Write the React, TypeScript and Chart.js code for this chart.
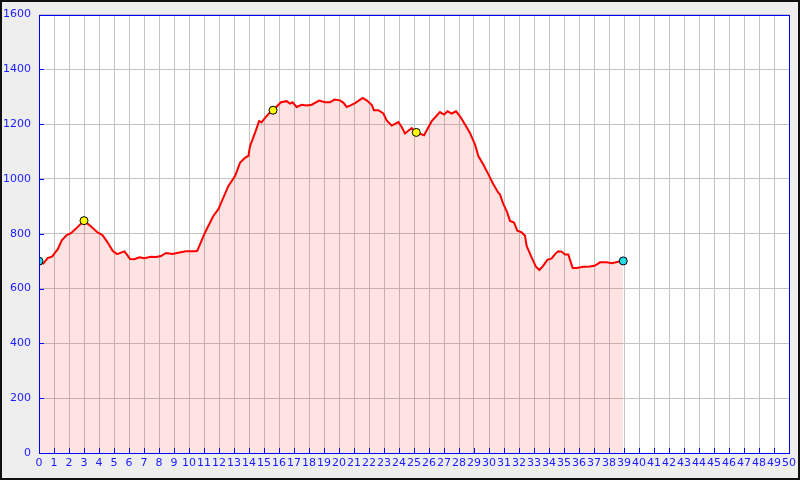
import React, { useEffect, useRef } from "react";
import { Chart, registerables } from "chart.js";

Chart.register(...registerables);

const distanceKm: number[] = [
  0, 0.29, 0.58, 0.87, 1.25, 1.53, 1.85, 2.13, 2.47, 3.0, 3.47, 3.91, 4.24, 4.58, 4.91, 5.2, 5.69, 5.84,
  6.07, 6.36, 6.69, 7.02, 7.47, 7.8, 8.13, 8.47, 8.91, 9.36, 9.8, 10.4, 10.55, 11.07, 11.62, 11.96, 12.29,
  12.62, 13.07, 13.4, 13.73, 13.96, 14.07, 14.4, 14.67, 14.84, 15.07, 15.33, 15.6, 16.13, 16.51, 16.73,
  16.9, 17.18, 17.51, 17.84, 18.18, 18.67, 19.07, 19.4, 19.69, 20.07, 20.3, 20.51, 20.73, 21.07, 21.58,
  21.84, 22.18, 22.33, 22.62, 22.96, 23.18, 23.51, 23.96, 24.18, 24.4, 24.84, 25.15, 25.67, 26.18, 26.73,
  27.0, 27.24, 27.51, 27.8, 28.07, 28.4, 28.73, 29.07, 29.29, 29.62, 29.96, 30.29, 30.62, 30.73, 30.96,
  31.22, 31.4, 31.67, 31.89, 32.18, 32.4, 32.51, 32.84, 33.13, 33.36, 33.62, 33.89, 34.18, 34.4, 34.62,
  34.84, 35.07, 35.29, 35.58, 35.84, 36.29, 36.73, 37.07, 37.4, 37.84, 38.18, 38.62, 38.95,
];

const elevationM: number[] = [
  700, 692, 711, 717, 744, 777, 795, 802, 819, 848, 827, 805, 795, 768, 738, 726, 736, 726,
  708, 707, 714, 711, 716, 715, 719, 730, 726, 732, 736, 736, 738, 805, 865, 890, 932,
  974, 1011, 1059, 1077, 1084, 1120, 1168, 1211, 1207, 1223, 1239, 1251, 1280, 1284, 1275,
  1280, 1263, 1271, 1268, 1271, 1286, 1280, 1280, 1290, 1287, 1278, 1263, 1268, 1277, 1296,
  1287, 1271, 1251, 1251, 1239, 1214, 1195, 1208, 1190, 1166, 1186, 1170, 1160, 1211, 1244,
  1235, 1247, 1239, 1247, 1229, 1199, 1168, 1126, 1084, 1053, 1017, 981, 950, 944, 908,
  877, 847, 841, 811, 805, 793, 756, 714, 680, 668, 684, 705, 710, 726, 736,
  735, 724, 724, 675, 675, 680, 681, 684, 696, 696, 693, 698, 701,
];

const markerKm: number[] = [0, 3.0, 15.6, 25.15, 38.95];
const markerElev: number[] = [700, 848, 1251, 1170, 701];
const markerColors: string[] = ["#22dde6", "#ffff00", "#ffff00", "#ffff00", "#22dde6"];

const xMin = 0;
const xMax = 50;
const yMin = 0;
const yMax = 1600;
const yStep = 200;

const BLUE = "#0000ff";
const LABEL_BLUE = "#1a1aff";

const framePlugin = {
  id: "frame",
  beforeDraw(chart: any) {
    const { ctx, chartArea, width, height } = chart;
    ctx.save();
    ctx.fillStyle = "#eeeeee";
    ctx.fillRect(0, 0, width, height);
    ctx.fillStyle = "#ffffff";
    ctx.fillRect(chartArea.left, chartArea.top, chartArea.right - chartArea.left, chartArea.bottom - chartArea.top);
    ctx.restore();
  },
  afterDatasetsDraw(chart: any) {
    const { ctx, chartArea, scales } = chart;
    const { left, right, top, bottom } = chartArea;
    ctx.save();
    ctx.strokeStyle = BLUE;
    ctx.lineWidth = 1;
    ctx.beginPath();
    for (let v = xMin; v <= xMax; v += 1) {
      const x = Math.round(scales.x.getPixelForValue(v)) + 0.5;
      ctx.moveTo(x, bottom);
      ctx.lineTo(x, bottom - 5);
    }
    for (let v = yMin; v <= yMax; v += yStep) {
      const y = Math.round(scales.y.getPixelForValue(v)) + 0.5;
      ctx.moveTo(left, y);
      ctx.lineTo(left + 5, y);
    }
    ctx.stroke();
    ctx.strokeRect(Math.round(left) + 0.5, Math.round(top) + 0.5, Math.round(right - left), Math.round(bottom - top));
    ctx.restore();
  },
  afterDraw(chart: any) {
    const { ctx, width, height } = chart;
    ctx.save();
    ctx.strokeStyle = "#111111";
    ctx.lineWidth = 2;
    ctx.strokeRect(1, 1, width - 2, height - 2);
    ctx.restore();
  },
};

export default function App() {
  const canvasRef = useRef<HTMLCanvasElement | null>(null);

  useEffect(() => {
    document.body.style.margin = "0";
    const canvas = canvasRef.current;
    if (!canvas) return;
    const profile = distanceKm.map((d, i) => ({ x: d, y: elevationM[i] }));
    const markers = markerKm.map((d, i) => ({ x: d, y: markerElev[i] }));
    const font = { family: "'DejaVu Sans', sans-serif", size: 11 };

    const chart = new Chart(canvas, {
      type: "line",
      data: {
        datasets: [
          {
            data: markers,
            showLine: false,
            pointRadius: 4,
            pointHoverRadius: 4,
            pointBackgroundColor: markerColors,
            pointBorderColor: "#000000",
            pointBorderWidth: 1,
            order: 0,
          } as any,
          {
            data: profile,
            borderColor: "#ff0000",
            borderWidth: 2,
            backgroundColor: "rgba(255,0,0,0.11)",
            fill: "origin",
            pointRadius: 0,
            tension: 0,
            order: 1,
          } as any,
        ],
      },
      options: {
        responsive: false,
        devicePixelRatio: 1,
        animation: false,
        events: [],
        layout: { padding: { left: 0, top: 13, right: 11, bottom: 0 } },
        plugins: {
          legend: { display: false },
          tooltip: { enabled: false },
          title: { display: false },
        },
        scales: {
          x: {
            type: "linear",
            min: xMin,
            max: xMax,
            border: { display: false },
            grid: { color: "#c4c4c4", lineWidth: 1, drawTicks: false },
            ticks: {
              stepSize: 1,
              autoSkip: false,
              maxRotation: 0,
              minRotation: 0,
              padding: 4,
              color: LABEL_BLUE,
              font,
              includeBounds: true,
              callback: (v: any) => String(v),
            },
            afterFit: (scale: any) => {
              scale.height = 27;
            },
          },
          y: {
            type: "linear",
            min: yMin,
            max: yMax,
            border: { display: false },
            grid: { color: "#c4c4c4", lineWidth: 1, drawTicks: false },
            ticks: {
              stepSize: yStep,
              padding: 8,
              color: LABEL_BLUE,
              font,
              callback: (v: any) => String(v),
            },
            afterFit: (scale: any) => {
              scale.width = 39;
            },
          },
        },
      } as any,
      plugins: [framePlugin],
    });
    return () => chart.destroy();
  }, []);

  return (
    <div style={{ width: 800, height: 480 }}>
      <canvas ref={canvasRef} width={800} height={480} style={{ display: "block" }} />
    </div>
  );
}
